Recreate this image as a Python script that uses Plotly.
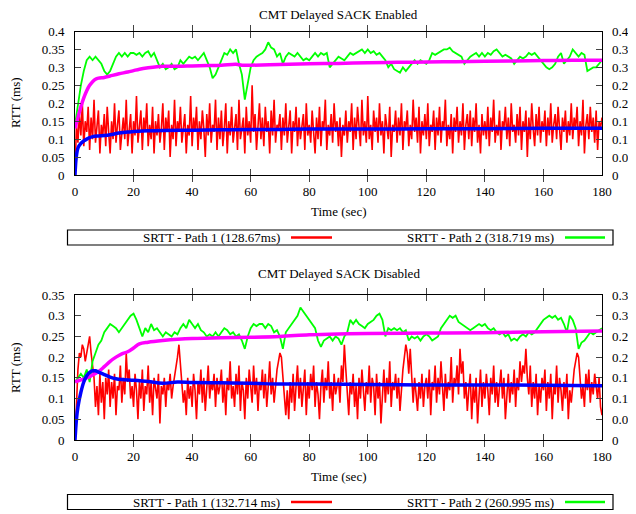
import numpy as np
import plotly.graph_objects as go

FONT = "Liberation Serif"
W, H = 636, 514
OFF = 8  # the page body adds an 8 px margin around the figure

# time grids (sec): noisy paths sampled every 0.5 s, green paths every 1 s
t_red = np.arange(361) * 0.5
t_green = np.arange(181)

# ---- CMT Delayed SACK Enabled ----
red_on = [
    0.00, 0.14, 0.09, 0.17, 0.11, 0.20, 0.08, 0.15, 0.12, 0.19, 0.07, 0.16, 0.10, 0.21, 0.09, 0.13, 0.18, 0.06, 0.14, 0.11,
    0.17, 0.08, 0.19, 0.12, 0.06, 0.15, 0.10, 0.20, 0.09, 0.14, 0.18, 0.07, 0.13, 0.16, 0.10, 0.21, 0.08, 0.12, 0.17, 0.06,
    0.15, 0.11, 0.22, 0.09, 0.13, 0.18, 0.07, 0.16, 0.12, 0.20, 0.08, 0.14, 0.10, 0.19, 0.06, 0.15, 0.11, 0.17, 0.09, 0.13,
    0.20, 0.07, 0.16, 0.12, 0.18, 0.05, 0.14, 0.10, 0.21, 0.08, 0.15, 0.12, 0.19, 0.09, 0.13, 0.17, 0.06, 0.14, 0.11, 0.22,
    0.08, 0.16, 0.12, 0.19, 0.07, 0.15, 0.10, 0.18, 0.13, 0.05, 0.17, 0.11, 0.20, 0.09, 0.14, 0.12, 0.21, 0.07, 0.16, 0.10,
    0.18, 0.08, 0.13, 0.20, 0.06, 0.15, 0.11, 0.19, 0.09, 0.14, 0.17, 0.07, 0.21, 0.10, 0.13, 0.16, 0.06, 0.19, 0.11, 0.15,
    0.09, 0.25, 0.12, 0.17, 0.07, 0.14, 0.20, 0.10, 0.16, 0.08, 0.19, 0.12, 0.15, 0.06, 0.18, 0.11, 0.21, 0.09, 0.14, 0.13,
    0.17, 0.07, 0.16, 0.11, 0.20, 0.09, 0.14, 0.18, 0.06, 0.15, 0.12, 0.19, 0.08, 0.16, 0.10, 0.13, 0.17, 0.07, 0.20, 0.11,
    0.14, 0.09, 0.18, 0.12, 0.06, 0.16, 0.10, 0.19, 0.08, 0.15, 0.13, 0.21, 0.07, 0.14, 0.11, 0.17, 0.09, 0.20, 0.12, 0.15,
    0.08, 0.16, 0.05, 0.14, 0.11, 0.18, 0.09, 0.15, 0.12, 0.20, 0.07, 0.16, 0.10, 0.19, 0.13, 0.08, 0.21, 0.11, 0.15, 0.09,
    0.22, 0.10, 0.14, 0.07, 0.18, 0.12, 0.16, 0.09, 0.20, 0.11, 0.15, 0.06, 0.17, 0.13, 0.10, 0.19, 0.05, 0.14, 0.12, 0.18,
    0.09, 0.16, 0.11, 0.20, 0.07, 0.15, 0.13, 0.18, 0.08, 0.14, 0.10, 0.21, 0.12, 0.16, 0.09, 0.19, 0.06, 0.15, 0.11, 0.17,
    0.10, 0.20, 0.08, 0.14, 0.12, 0.18, 0.07, 0.16, 0.11, 0.19, 0.09, 0.15, 0.13, 0.21, 0.08, 0.14, 0.10, 0.17, 0.06, 0.16,
    0.12, 0.19, 0.09, 0.15, 0.11, 0.20, 0.07, 0.14, 0.17, 0.10, 0.18, 0.08, 0.16, 0.12, 0.20, 0.09, 0.14, 0.06, 0.17, 0.11,
    0.15, 0.10, 0.19, 0.08, 0.16, 0.12, 0.21, 0.09, 0.14, 0.11, 0.18, 0.07, 0.15, 0.13, 0.19, 0.10, 0.16, 0.08, 0.20, 0.12,
    0.14, 0.09, 0.17, 0.11, 0.19, 0.07, 0.15, 0.12, 0.18, 0.05, 0.16, 0.10, 0.20, 0.13, 0.08, 0.17, 0.11, 0.19, 0.09, 0.15,
    0.12, 0.18, 0.08, 0.16, 0.11, 0.20, 0.09, 0.14, 0.17, 0.10, 0.19, 0.13, 0.07, 0.16, 0.12, 0.18, 0.09, 0.15, 0.11, 0.20,
    0.10, 0.16, 0.13, 0.19, 0.08, 0.15, 0.11, 0.21, 0.06, 0.14, 0.17, 0.10, 0.19, 0.12, 0.16, 0.09, 0.18, 0.07, 0.15, 0.13,
    0.16,
]
green_on = [
    0.14, 0.20, 0.25, 0.29, 0.32, 0.33, 0.32, 0.33, 0.32, 0.31,
    0.29, 0.28, 0.29, 0.31, 0.33, 0.34, 0.33, 0.34, 0.33, 0.34,
    0.34, 0.335, 0.34, 0.33, 0.34, 0.345, 0.33, 0.34, 0.32, 0.30,
    0.31, 0.295, 0.30, 0.31, 0.295, 0.30, 0.32, 0.31, 0.32, 0.33,
    0.325, 0.33, 0.32, 0.33, 0.34, 0.32, 0.30, 0.27, 0.28, 0.30,
    0.32, 0.34, 0.335, 0.35, 0.34, 0.35, 0.31, 0.28, 0.21, 0.26,
    0.30, 0.32, 0.33, 0.335, 0.34, 0.35, 0.37, 0.355, 0.35, 0.33,
    0.34, 0.31, 0.33, 0.34, 0.335, 0.33, 0.34, 0.33, 0.32, 0.325,
    0.32, 0.33, 0.34, 0.33, 0.34, 0.335, 0.34, 0.30, 0.31, 0.32,
    0.33, 0.325, 0.32, 0.33, 0.34, 0.335, 0.34, 0.345, 0.35, 0.34,
    0.35, 0.34, 0.345, 0.335, 0.34, 0.33, 0.32, 0.30, 0.31, 0.295,
    0.29, 0.285, 0.30, 0.29, 0.30, 0.31, 0.32, 0.31, 0.32, 0.315,
    0.31, 0.32, 0.34, 0.335, 0.34, 0.345, 0.35, 0.35, 0.355, 0.345,
    0.34, 0.335, 0.33, 0.31, 0.32, 0.33, 0.335, 0.34, 0.33, 0.34,
    0.33, 0.34, 0.335, 0.345, 0.35, 0.34, 0.33, 0.335, 0.33, 0.325,
    0.31, 0.32, 0.33, 0.325, 0.33, 0.34, 0.335, 0.34, 0.33, 0.32,
    0.31, 0.30, 0.295, 0.30, 0.31, 0.33, 0.34, 0.31, 0.32, 0.33,
    0.35, 0.34, 0.33, 0.34, 0.335, 0.29, 0.295, 0.30, 0.30, 0.31,
    0.32,
]
mag_on_t = [0, 1, 2, 3, 4, 5, 6, 7, 8, 10, 12, 15, 18, 20, 22, 25, 28, 30, 35, 40, 45, 50, 55, 57, 60,
            70, 80, 90, 100, 110, 120, 130, 140, 150, 160, 170, 180]
mag_on = [0.13, 0.16, 0.19, 0.215, 0.235, 0.25, 0.26, 0.267, 0.27, 0.272, 0.276, 0.282, 0.287, 0.291, 0.295,
          0.299, 0.302, 0.303, 0.303, 0.304, 0.305, 0.306, 0.309, 0.306, 0.306, 0.308, 0.31, 0.311, 0.313,
          0.314, 0.315, 0.316, 0.317, 0.318, 0.319, 0.32, 0.32]
blue_on_t = [0, 0.3, 0.6, 1, 2, 3, 4, 5, 6, 8, 10, 12, 15, 18, 20, 25, 30, 40, 50, 60, 70, 80, 100, 120,
             140, 160, 180]
blue_on = [0.0, 0.04, 0.06, 0.075, 0.088, 0.095, 0.1, 0.104, 0.107, 0.109, 0.11, 0.112, 0.117, 0.12, 0.121,
           0.123, 0.124, 0.125, 0.126, 0.127, 0.127, 0.128, 0.128, 0.129, 0.129, 0.13, 0.13]

# ---- CMT Delayed SACK Disabled ----
red_off = [
    0.00, 0.10, 0.17, 0.21, 0.20, 0.23, 0.22, 0.19, 0.21, 0.24, 0.25, 0.21, 0.17, 0.15, 0.08, 0.13, 0.06, 0.16, 0.09, 0.14,
    0.05, 0.15, 0.11, 0.17, 0.08, 0.14, 0.10, 0.16, 0.06, 0.13, 0.12, 0.18, 0.09, 0.15, 0.11, 0.21, 0.14, 0.17, 0.10, 0.13,
    0.08, 0.16, 0.12, 0.05, 0.14, 0.10, 0.17, 0.07, 0.13, 0.11, 0.18, 0.09, 0.14, 0.06, 0.15, 0.12, 0.10, 0.16, 0.04, 0.13,
    0.11, 0.15, 0.08, 0.14, 0.12, 0.16, 0.10, 0.13, 0.15, 0.18, 0.20, 0.23, 0.19, 0.14, 0.09, 0.12, 0.06, 0.15, 0.10, 0.13,
    0.08, 0.16, 0.12, 0.05, 0.14, 0.11, 0.17, 0.09, 0.15, 0.07, 0.13, 0.18, 0.10, 0.14, 0.12, 0.16, 0.08, 0.15, 0.11, 0.13,
    0.17, 0.09, 0.14, 0.06, 0.15, 0.12, 0.19, 0.10, 0.13, 0.08, 0.16, 0.11, 0.18, 0.07, 0.14, 0.12, 0.05, 0.15, 0.10, 0.17,
    0.13, 0.09, 0.18, 0.11, 0.15, 0.07, 0.14, 0.12, 0.17, 0.10, 0.16, 0.08, 0.13, 0.19, 0.11, 0.15, 0.09, 0.14, 0.17, 0.19,
    0.21, 0.20, 0.15, 0.10, 0.06, 0.12, 0.05, 0.14, 0.09, 0.16, 0.07, 0.13, 0.18, 0.10, 0.15, 0.08, 0.12, 0.17, 0.06, 0.14,
    0.10, 0.16, 0.12, 0.18, 0.08, 0.14, 0.11, 0.05, 0.13, 0.17, 0.09, 0.15, 0.12, 0.19, 0.10, 0.14, 0.07, 0.16, 0.11, 0.13,
    0.15, 0.09, 0.18, 0.14, 0.23, 0.17, 0.10, 0.06, 0.14, 0.11, 0.16, 0.08, 0.13, 0.05, 0.15, 0.10, 0.17, 0.12, 0.07, 0.14,
    0.11, 0.18, 0.09, 0.15, 0.13, 0.06, 0.16, 0.10, 0.14, 0.04, 0.12, 0.17, 0.09, 0.15, 0.11, 0.19, 0.08, 0.14, 0.12, 0.16,
    0.10, 0.15, 0.07, 0.13, 0.17, 0.20, 0.23, 0.21, 0.16, 0.22, 0.14, 0.09, 0.15, 0.11, 0.07, 0.14, 0.10, 0.16, 0.08, 0.13,
    0.15, 0.10, 0.17, 0.06, 0.14, 0.12, 0.18, 0.09, 0.15, 0.11, 0.19, 0.13, 0.07, 0.16, 0.10, 0.14, 0.12, 0.20, 0.09, 0.15,
    0.13, 0.18, 0.11, 0.22, 0.16, 0.19, 0.10, 0.14, 0.07, 0.12, 0.16, 0.05, 0.13, 0.09, 0.15, 0.04, 0.11, 0.17, 0.08, 0.14,
    0.10, 0.16, 0.12, 0.06, 0.15, 0.11, 0.18, 0.09, 0.14, 0.08, 0.13, 0.17, 0.10, 0.15, 0.05, 0.12, 0.16, 0.09, 0.14, 0.11,
    0.17, 0.08, 0.15, 0.12, 0.19, 0.14, 0.18, 0.16, 0.22, 0.15, 0.11, 0.18, 0.08, 0.14, 0.10, 0.16, 0.06, 0.13, 0.09, 0.15,
    0.12, 0.17, 0.07, 0.14, 0.10, 0.16, 0.05, 0.13, 0.11, 0.18, 0.09, 0.15, 0.12, 0.07, 0.14, 0.10, 0.16, 0.05, 0.12, 0.09,
    0.14, 0.17, 0.19, 0.21, 0.20, 0.15, 0.10, 0.13, 0.08, 0.16, 0.12, 0.17, 0.09, 0.14, 0.11, 0.16, 0.13, 0.10, 0.15, 0.08,
    0.06,
]
green_off = [
    0.14, 0.15, 0.16, 0.15, 0.17, 0.14, 0.19, 0.21, 0.23, 0.24,
    0.26, 0.27, 0.28, 0.275, 0.27, 0.26, 0.27, 0.28, 0.29, 0.30,
    0.305, 0.29, 0.27, 0.25, 0.27, 0.26, 0.28, 0.265, 0.27, 0.26,
    0.25, 0.26, 0.255, 0.25, 0.26, 0.255, 0.27, 0.28, 0.27, 0.29,
    0.28, 0.27, 0.28, 0.265, 0.26, 0.25, 0.255, 0.25, 0.26, 0.25,
    0.26, 0.27, 0.265, 0.255, 0.26, 0.25, 0.255, 0.24, 0.22, 0.25,
    0.27, 0.28, 0.275, 0.28, 0.28, 0.27, 0.28, 0.275, 0.26, 0.265,
    0.25, 0.22, 0.26, 0.27, 0.28, 0.29, 0.30, 0.32, 0.31, 0.30,
    0.29, 0.28, 0.27, 0.24, 0.225, 0.24, 0.245, 0.25, 0.24, 0.25,
    0.245, 0.23, 0.25, 0.26, 0.29, 0.28, 0.29, 0.28, 0.275, 0.27,
    0.28, 0.285, 0.29, 0.30, 0.305, 0.29, 0.25, 0.27, 0.265, 0.27,
    0.265, 0.27, 0.26, 0.265, 0.24, 0.25, 0.245, 0.25, 0.24, 0.25,
    0.255, 0.25, 0.24, 0.245, 0.25, 0.27, 0.28, 0.29, 0.30, 0.295,
    0.30, 0.285, 0.28, 0.275, 0.27, 0.265, 0.27, 0.275, 0.28, 0.275,
    0.28, 0.27, 0.265, 0.27, 0.26, 0.255, 0.26, 0.25, 0.255, 0.24,
    0.245, 0.24, 0.25, 0.255, 0.25, 0.26, 0.255, 0.26, 0.27, 0.28,
    0.29, 0.295, 0.30, 0.295, 0.30, 0.29, 0.295, 0.28, 0.26, 0.30,
    0.29, 0.27, 0.22, 0.235, 0.24, 0.25, 0.26, 0.255, 0.26, 0.265,
    0.27,
]
mag_off_t = [0, 1, 2, 3, 4, 5, 6, 8, 10, 12, 14, 16, 18, 20, 22, 25, 30, 35, 40, 50, 60, 70, 80, 90, 100,
             120, 140, 160, 180]
mag_off = [0.14, 0.143, 0.145, 0.147, 0.15, 0.153, 0.157, 0.165, 0.177, 0.19, 0.2, 0.208, 0.213, 0.222, 0.232,
           0.236, 0.24, 0.243, 0.245, 0.247, 0.248, 0.25, 0.254, 0.256, 0.257, 0.258, 0.259, 0.261, 0.263]
blue_off_t = [0, 0.5, 1, 2, 3, 4, 5, 6, 7, 8, 10, 12, 14, 16, 20, 25, 30, 35, 40, 50, 60, 70, 80, 100, 120,
              140, 160, 180]
blue_off = [0.0, 0.05, 0.08, 0.115, 0.14, 0.155, 0.163, 0.167, 0.167, 0.164, 0.158, 0.152, 0.148, 0.146, 0.144,
            0.141, 0.137, 0.14, 0.139, 0.138, 0.137, 0.135, 0.135, 0.134, 0.133, 0.133, 0.132, 0.131]

titles = ["CMT Delayed SACK Enabled", "CMT Delayed SACK Disabled"]
legend_on = ["SRTT - Path 1 (128.67ms)", "SRTT - Path 2 (318.719 ms)"]
legend_off = ["SRTT - Path 1 (132.714 ms)", "SRTT - Path 2 (260.995 ms)"]
x_ticks = list(range(0, 181, 20))
y_ticks_on = [0, 0.05, 0.1, 0.15, 0.2, 0.25, 0.3, 0.35, 0.4]
y_ticks_off = [0, 0.05, 0.1, 0.15, 0.2, 0.25, 0.3, 0.35]
y_labels_on = ["0", "0.05", "0.1", "0.15", "0.2", "0.25", "0.3", "0.35", "0.4"]
y_labels_off = y_labels_on[:-1]


# page pixel -> paper fraction (figure sits OFF px right/down in the page)
def px(x):
    return (x - OFF) / W


def py(y):
    return 1 - (y - OFF) / H


tfont = dict(family=FONT, size=13, color="black")

fig = go.Figure()
panels = [
    ("x", "y", "y3", red_on, green_on, mag_on_t, mag_on, blue_on_t, blue_on),
    ("x2", "y2", "y4", red_off, green_off, mag_off_t, mag_off, blue_off_t, blue_off),
]
for xa, ya, ya_r, red, green, mt, mv, bt, bv in panels:
    fig.add_trace(go.Scatter(x=t_red, y=red, mode="lines", line=dict(color="#ff0000", width=1.6),
                             xaxis=xa, yaxis=ya, showlegend=False))
    fig.add_trace(go.Scatter(x=t_green, y=green, mode="lines", line=dict(color="#00ff00", width=1.8),
                             xaxis=xa, yaxis=ya, showlegend=False))
    fig.add_trace(go.Scatter(x=mt, y=mv, mode="lines", line=dict(color="#ff00ff", width=3.5, shape="spline"),
                             xaxis=xa, yaxis=ya, showlegend=False))
    fig.add_trace(go.Scatter(x=bt, y=bv, mode="lines", line=dict(color="#0000ff", width=3.5, shape="spline"),
                             xaxis=xa, yaxis=ya_r, showlegend=False))


def xaxis(domain, anchor):
    return dict(domain=domain, anchor=anchor, range=[0, 180], tickvals=x_ticks, ticks="inside", ticklen=6,
                showline=True, linecolor="black", linewidth=1, mirror="allticks", showgrid=False,
                zeroline=False, tickfont=tfont, ticklabelstandoff=4, automargin=False)


def yaxis(domain, anchor, top, vals, labels):
    return dict(domain=domain, anchor=anchor, range=[0, top], tickvals=vals, ticktext=labels, ticks="inside",
                ticklen=6, showline=True, linecolor="black", linewidth=1, mirror="allticks", showgrid=False,
                zeroline=False, tickfont=tfont, ticklabelstandoff=7, automargin=False)


def yaxis_right(over, anchor, top, vals, labels):
    return dict(overlaying=over, anchor=anchor, side="right", range=[0, top], tickvals=vals, ticktext=labels,
                ticks="", showline=False, showgrid=False, zeroline=False, tickfont=tfont, ticklabelstandoff=9,
                automargin=False)


top_dom = [py(175), py(31.5)]
bot_dom = [py(440), py(295)]
xdom = [px(75), px(602)]


def note(text, x, y, xanchor="center", **kw):
    return dict(text=text, x=px(x), y=py(y), xref="paper", yref="paper", showarrow=False, font=tfont,
                xanchor=xanchor, yanchor="middle", **kw)


annotations = [
    dict(text=titles[0], x=px(338), y=1 + 3 / H, xref="paper", yref="paper", showarrow=False, font=tfont,
         xanchor="center", yanchor="top"),
    note(titles[1], 339, 273),
    note("Time (sec)", 339, 212),
    note("Time (sec)", 339, 476),
    note("RTT (ms)", 15, 103, textangle=-90),
    note("RTT (ms)", 15, 368, textangle=-90),
]
shapes = []
for labels, yc, (y0, y1) in [(legend_on, 237.5, (230, 245)), (legend_off, 502, (494.5, 509.5))]:
    shapes.append(dict(type="rect", xref="paper", yref="paper", x0=px(67.5), x1=px(613), y0=py(y1), y1=py(y0),
                       line=dict(color="black", width=1.2), fillcolor="rgba(0,0,0,0)"))
    for lab, xr, (l0, l1), col in [(labels[0], 282, (291, 332), "#ff0000"),
                                   (labels[1], 556, (565, 605), "#00ff00")]:
        annotations.append(note(lab, xr, yc, xanchor="right"))
        shapes.append(dict(type="line", xref="paper", yref="paper", x0=px(l0), x1=px(l1), y0=py(yc), y1=py(yc),
                           line=dict(color=col, width=2.5)))

fig.update_layout(
    width=W, height=H, autosize=False,
    margin=dict(l=0, r=0, t=0, b=0, autoexpand=False),
    paper_bgcolor="white", plot_bgcolor="white",
    showlegend=False,
    xaxis=xaxis(xdom, "y"),
    yaxis=yaxis(top_dom, "x", 0.4, y_ticks_on, y_labels_on),
    yaxis3=yaxis_right("y", "x", 0.4, y_ticks_on, y_labels_on),
    xaxis2=xaxis(xdom, "y2"),
    yaxis2=yaxis(bot_dom, "x2", 0.35, y_ticks_off, y_labels_off),
    yaxis4=yaxis_right("y2", "x2", 0.35, y_ticks_off, y_labels_off),
    annotations=annotations,
    shapes=shapes,
)

fig.write_html("out.html")
